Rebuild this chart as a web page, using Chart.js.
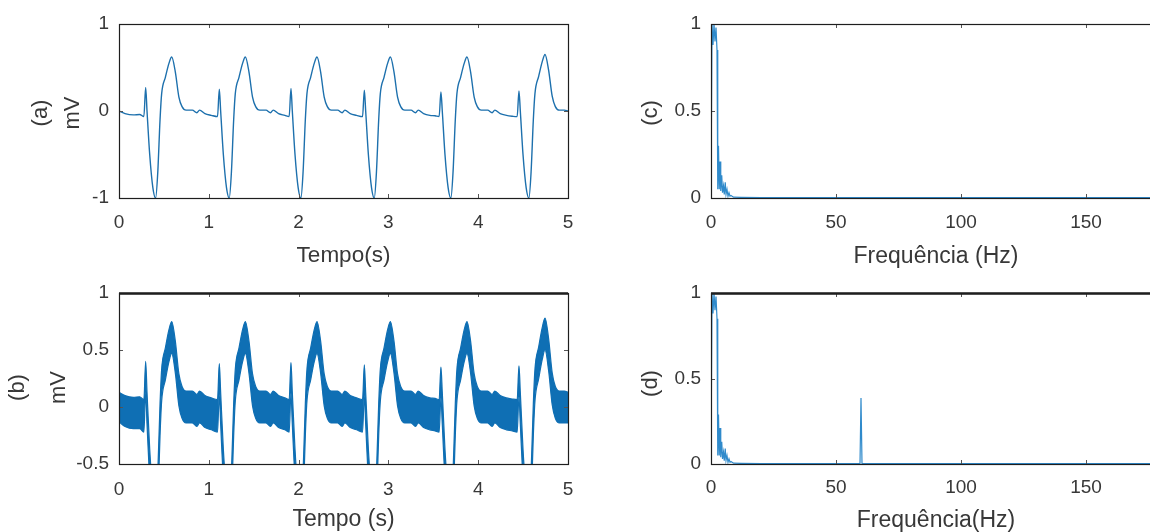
<!DOCTYPE html>
<html>
<head>
<meta charset="utf-8">
<script src="https://cdn.jsdelivr.net/npm/chart.js@4.4.1/dist/chart.umd.min.js"></script>
<style>
  html, body { margin: 0; padding: 0; background: #ffffff; }
  body { width: 1150px; height: 532px; overflow: hidden; position: relative; }
  canvas { position: absolute; display: block; }
</style>
</head>
<body>
<canvas id="ecgClean"></canvas>
<canvas id="ecgNoisy"></canvas>
<canvas id="specClean"></canvas>
<canvas id="specNoisy"></canvas>
<script>
// ---- tick labels ----
const timeTicks = [0, 1, 2, 3, 4, 5];
const ampTicksClean = [-1, 0, 1];
const ampTicksNoisy = [-0.5, 0, 0.5, 1];
const freqTicks = [0, 50, 100, 150];
const magTicks = [0, 0.5, 1];

// ---- ECG trace: sample times (s) ----
const ecgTime = [
  0.000, 0.067, 0.160, 0.230,
  0.277, 0.297, 0.312, 0.342, 0.377, 0.408, 0.432, 0.457, 0.475, 0.517, 0.557, 0.587, 0.627, 0.667, 0.702, 0.747, 0.817, 0.867, 0.897, 0.957, 1.027,
  1.097, 1.117, 1.132, 1.162, 1.197, 1.228, 1.252, 1.277, 1.295, 1.337, 1.377, 1.407, 1.447, 1.487, 1.522, 1.567, 1.637, 1.687, 1.717, 1.777, 1.847,
  1.895, 1.915, 1.930, 1.960, 1.995, 2.026, 2.050, 2.075, 2.093, 2.135, 2.175, 2.205, 2.245, 2.285, 2.320, 2.365, 2.435, 2.485, 2.515, 2.575, 2.645,
  2.712, 2.732, 2.747, 2.777, 2.812, 2.843, 2.867, 2.892, 2.910, 2.952, 2.992, 3.022, 3.062, 3.102, 3.137, 3.182, 3.252, 3.302, 3.332, 3.392, 3.462, 3.520,
  3.565, 3.585, 3.600, 3.630, 3.665, 3.696, 3.720, 3.745, 3.763, 3.805, 3.845, 3.875, 3.915, 3.955, 3.990, 4.035, 4.105, 4.155, 4.185, 4.245, 4.315, 4.380,
  4.434, 4.454, 4.469, 4.499, 4.534, 4.565, 4.589, 4.614, 4.632, 4.674, 4.714, 4.744, 4.784, 4.824, 4.859, 4.904, 4.960, 5.000
];

// clean ECG (mV)
const ecgClean = [
  0.00, -0.03, -0.045, -0.04,
  -0.065, 0.27, 0.00, -0.50, -0.88, -1.00, -0.70, -0.10, 0.20, 0.39, 0.55, 0.62, 0.45, 0.16, 0.05, 0.01, 0.01, -0.02, 0.01, -0.03, -0.05,
  -0.065, 0.25, 0.00, -0.50, -0.88, -1.00, -0.70, -0.10, 0.20, 0.39, 0.55, 0.62, 0.45, 0.16, 0.05, 0.01, 0.01, -0.02, 0.01, -0.03, -0.05,
  -0.065, 0.26, 0.00, -0.50, -0.88, -1.00, -0.70, -0.10, 0.20, 0.39, 0.55, 0.62, 0.45, 0.16, 0.05, 0.01, 0.01, -0.02, 0.01, -0.03, -0.05,
  -0.065, 0.24, 0.00, -0.50, -0.88, -1.00, -0.70, -0.10, 0.20, 0.39, 0.55, 0.62, 0.45, 0.16, 0.05, 0.01, 0.01, -0.02, 0.01, -0.03, -0.05, -0.055,
  -0.065, 0.22, 0.00, -0.50, -0.88, -1.00, -0.70, -0.10, 0.20, 0.39, 0.55, 0.62, 0.45, 0.16, 0.05, 0.01, 0.01, -0.02, 0.01, -0.03, -0.05, -0.06,
  -0.065, 0.23, 0.00, -0.50, -0.88, -1.00, -0.70, -0.10, 0.20, 0.40, 0.57, 0.65, 0.47, 0.17, 0.05, 0.01, 0.01, 0.00
];

// ECG with 60 Hz interference: upper and lower edge of the band (mV)
const ecgNoisyUpper = [
  0.13, 0.10, 0.085, 0.09,
  0.065, 0.40, 0.13, -0.37, -0.75, -0.87, -0.57, 0.03, 0.33, 0.52, 0.68, 0.75, 0.58, 0.29, 0.18, 0.14, 0.14, 0.11, 0.14, 0.10, 0.08,
  0.065, 0.38, 0.13, -0.37, -0.75, -0.87, -0.57, 0.03, 0.33, 0.52, 0.68, 0.75, 0.58, 0.29, 0.18, 0.14, 0.14, 0.11, 0.14, 0.10, 0.08,
  0.065, 0.39, 0.13, -0.37, -0.75, -0.87, -0.57, 0.03, 0.33, 0.52, 0.68, 0.75, 0.58, 0.29, 0.18, 0.14, 0.14, 0.11, 0.14, 0.10, 0.08,
  0.065, 0.37, 0.13, -0.37, -0.75, -0.87, -0.57, 0.03, 0.33, 0.52, 0.68, 0.75, 0.58, 0.29, 0.18, 0.14, 0.14, 0.11, 0.14, 0.10, 0.08, 0.075,
  0.065, 0.35, 0.13, -0.37, -0.75, -0.87, -0.57, 0.03, 0.33, 0.52, 0.68, 0.75, 0.58, 0.29, 0.18, 0.14, 0.14, 0.11, 0.14, 0.10, 0.08, 0.07,
  0.065, 0.36, 0.13, -0.37, -0.75, -0.87, -0.57, 0.03, 0.33, 0.53, 0.70, 0.78, 0.60, 0.30, 0.18, 0.14, 0.14, 0.13
];
const ecgNoisyLower = [
  -0.13, -0.17, -0.19, -0.19,
  -0.22, 0.13, -0.15, -0.65, -1.03, -1.15, -0.85, -0.25, 0.05, 0.24, 0.40, 0.47, 0.30, 0.01, -0.10, -0.14, -0.14, -0.17, -0.14, -0.18, -0.20,
  -0.22, 0.11, -0.15, -0.65, -1.03, -1.15, -0.85, -0.25, 0.05, 0.24, 0.40, 0.47, 0.30, 0.01, -0.10, -0.14, -0.14, -0.17, -0.14, -0.18, -0.20,
  -0.22, 0.12, -0.15, -0.65, -1.03, -1.15, -0.85, -0.25, 0.05, 0.24, 0.40, 0.47, 0.30, 0.01, -0.10, -0.14, -0.14, -0.17, -0.14, -0.18, -0.20,
  -0.22, 0.10, -0.15, -0.65, -1.03, -1.15, -0.85, -0.25, 0.05, 0.24, 0.40, 0.47, 0.30, 0.01, -0.10, -0.14, -0.14, -0.17, -0.14, -0.18, -0.20, -0.21,
  -0.22, 0.08, -0.15, -0.65, -1.03, -1.15, -0.85, -0.25, 0.05, 0.24, 0.40, 0.47, 0.30, 0.01, -0.10, -0.14, -0.14, -0.17, -0.14, -0.18, -0.20, -0.21,
  -0.22, 0.09, -0.15, -0.65, -1.03, -1.15, -0.85, -0.25, 0.05, 0.25, 0.42, 0.50, 0.32, 0.02, -0.10, -0.14, -0.14, -0.14
];

// ---- magnitude spectra (normalised) ----
const specFreq = [
  0, 0.4, 0.8, 1.2, 1.6, 2.0, 2.4, 2.7, 3.0, 3.3, 3.6, 3.9, 4.3, 4.6, 5.0, 5.3, 5.7, 6.0,
  6.4, 6.8, 7.2, 7.6, 8.0, 9.0, 12, 20, 40, 59.6, 60.0, 60.4, 80, 120, 180
];
const specMagClean = [
  0.02, 1.0, 0.88, 1.0, 0.90, 0.98, 0.85, 0.05, 0.30, 0.05, 0.21, 0.04, 0.13, 0.03, 0.07, 0.02, 0.09, 0.02,
  0.05, 0.01, 0.03, 0.01, 0.015, 0.005, 0.004, 0.003, 0.003, 0.003, 0.003, 0.003, 0.003, 0.003, 0.003
];
const specMagNoisy = [
  0.02, 1.0, 0.88, 1.0, 0.90, 0.98, 0.85, 0.05, 0.29, 0.05, 0.21, 0.04, 0.13, 0.03, 0.07, 0.02, 0.09, 0.02,
  0.05, 0.01, 0.03, 0.01, 0.015, 0.005, 0.004, 0.003, 0.003, 0.003, 0.386, 0.003, 0.003, 0.003, 0.003
];

// ---- drawing ----
const FONT = '"Liberation Sans", Arial, Helvetica, sans-serif';
const TEXT = '#383838';
const BLUE = '#0f6fb4';
const SPEC_BLUE = '#2f8acb';

const toPoints = (xs, ys) => xs.map((x, i) => ({ x: x, y: ys[i] }));

// axes box, inward tick marks and the rotated y caption, MATLAB style
const panelFrame = {
  id: 'panelFrame',
  afterDatasetsDraw(chart, args, o) {
    const { ctx, chartArea: a, scales } = chart;
    const len = 4;
    ctx.save();
    ctx.strokeStyle = '#555555';
    ctx.lineWidth = 1;
    ctx.beginPath();
    scales.x.ticks.forEach(t => {
      const px = Math.round(scales.x.getPixelForValue(t.value)) + 0.5;
      ctx.moveTo(px, a.bottom); ctx.lineTo(px, a.bottom - len);
      ctx.moveTo(px, a.top); ctx.lineTo(px, a.top + len);
    });
    scales.y.ticks.forEach(t => {
      const py = Math.round(scales.y.getPixelForValue(t.value)) + 0.5;
      ctx.moveTo(a.left, py); ctx.lineTo(a.left + len, py);
      ctx.moveTo(a.right, py); ctx.lineTo(a.right - len, py);
    });
    ctx.stroke();

    ctx.strokeStyle = '#1e1e1e';
    ctx.lineWidth = 1.2;
    ctx.strokeRect(Math.round(a.left) + 0.5, Math.round(a.top) + 0.5,
                   Math.round(a.right - a.left), Math.round(a.bottom - a.top));
    if (o.topWidth > 1) {
      ctx.lineWidth = o.topWidth;
      ctx.beginPath();
      ctx.moveTo(a.left, a.top + 0.5);
      ctx.lineTo(a.right, a.top + 0.5);
      ctx.stroke();
    }

    // y caption, one rotated line per entry
    const cy = (a.top + a.bottom) / 2 + o.captionShift;
    ctx.fillStyle = TEXT;
    ctx.font = o.captionSize + 'px ' + FONT;
    ctx.textAlign = 'center';
    ctx.textBaseline = 'middle';
    o.caption.forEach((line, i) => {
      ctx.save();
      ctx.translate(a.left + o.captionX[i], cy);
      ctx.rotate(-Math.PI / 2);
      ctx.fillText(line, 0, 0);
      ctx.restore();
    });
    ctx.restore();
  }
};

function makePanel(id, g, cfg) {
  const cv = document.getElementById(id);
  cv.width = g.w; cv.height = g.h;
  cv.style.left = g.left + 'px'; cv.style.top = g.top + 'px';
  cv.style.width = g.w + 'px'; cv.style.height = g.h + 'px';

  const tickFont = { family: FONT, size: 19 };
  const fixTicks = list => s => { s.ticks = list.map(v => ({ value: v })); };

  return new Chart(cv, {
    type: 'line',
    data: { datasets: cfg.datasets },
    options: {
      responsive: false,
      animation: false,
      devicePixelRatio: 1,
      events: [],
      layout: { padding: { left: 0, top: g.T - g.top, right: g.left + g.w - g.R, bottom: 0 } },
      elements: { point: { radius: 0 }, line: { tension: 0 } },
      plugins: {
        legend: { display: false },
        tooltip: { enabled: false },
        panelFrame: cfg.frame
      },
      scales: {
        x: {
          type: 'linear', min: cfg.xMin, max: cfg.xMax,
          afterBuildTicks: fixTicks(cfg.xTicks),
          afterFit: s => {
            s.height = g.top + g.h - g.B;
            s.paddingLeft = 0; s.paddingRight = 0; s.paddingTop = 0; s.paddingBottom = 0;
          },
          grid: { display: false, drawTicks: false },
          border: { display: false },
          ticks: { padding: cfg.xTickPad, font: tickFont, color: TEXT, maxRotation: 0, autoSkip: false,
                   callback: v => String(v) },
          title: { display: true, text: cfg.xTitle, color: TEXT,
                   font: { family: FONT, size: cfg.xTitleSize },
                   padding: { top: 0, bottom: cfg.xTitlePad } }
        },
        y: {
          type: 'linear', min: cfg.yMin, max: cfg.yMax,
          afterBuildTicks: fixTicks(cfg.yTicks),
          afterFit: s => {
            s.width = g.L - g.left;
            s.paddingLeft = 0; s.paddingRight = 0; s.paddingTop = 0; s.paddingBottom = 0;
          },
          grid: { display: false, drawTicks: false },
          border: { display: false },
          ticks: { padding: 10, font: tickFont, color: TEXT, autoSkip: false,
                   callback: v => String(v) }
        }
      }
    },
    plugins: [panelFrame]
  });
}

// (a) clean ECG
makePanel('ecgClean',
  { left: 0, top: 0, w: 600, h: 275, L: 119, T: 24, R: 568, B: 198 },
  {
    datasets: [{ data: toPoints(ecgTime, ecgClean), borderColor: '#1d70ad', borderWidth: 1.4,
                 cubicInterpolationMode: 'monotone', fill: false }],
    xMin: 0, xMax: 5, xTicks: timeTicks, xTickPad: 13,
    yMin: -1, yMax: 1, yTicks: ampTicksClean,
    xTitle: 'Tempo(s)', xTitleSize: 22.5, xTitlePad: 6,
    frame: { caption: ['(a)', 'mV'], captionX: [-78, -46.5], captionShift: 2, captionSize: 22, topWidth: 1 }
  });

// (b) ECG with 60 Hz interference
makePanel('ecgNoisy',
  { left: 0, top: 275, w: 600, h: 262, L: 119, T: 293, R: 568, B: 464 },
  {
    datasets: [
      { data: toPoints(ecgTime, ecgNoisyUpper), borderColor: BLUE, borderWidth: 1.2,
        cubicInterpolationMode: 'monotone', fill: false },
      { data: toPoints(ecgTime, ecgNoisyLower), borderColor: BLUE, borderWidth: 1.2,
        cubicInterpolationMode: 'monotone', backgroundColor: BLUE, fill: '-1' }
    ],
    xMin: 0, xMax: 5, xTicks: timeTicks, xTickPad: 14,
    yMin: -0.5, yMax: 1, yTicks: ampTicksNoisy,
    xTitle: 'Tempo (s)', xTitleSize: 23, xTitlePad: 4,
    frame: { caption: ['(b)', 'mV'], captionX: [-101, -60], captionShift: 9, captionSize: 22, topWidth: 2.6 }
  });

// (c) spectrum of the clean ECG
makePanel('specClean',
  { left: 620, top: 0, w: 580, h: 275, L: 711, T: 24, R: 1161, B: 198 },
  {
    datasets: [{ data: toPoints(specFreq, specMagClean), borderColor: SPEC_BLUE, borderWidth: 1.2, fill: false }],
    xMin: 0, xMax: 180, xTicks: freqTicks, xTickPad: 13,
    yMin: 0, yMax: 1, yTicks: magTicks,
    xTitle: 'Frequência (Hz)', xTitleSize: 23, xTitlePad: 5,
    frame: { caption: ['(c)'], captionX: [-60], captionShift: 2, captionSize: 22, topWidth: 1 }
  });

// (d) spectrum of the ECG with interference
makePanel('specNoisy',
  { left: 620, top: 275, w: 580, h: 262, L: 711, T: 293, R: 1161, B: 464 },
  {
    datasets: [{ data: toPoints(specFreq, specMagNoisy), borderColor: SPEC_BLUE, borderWidth: 1.2, fill: false }],
    xMin: 0, xMax: 180, xTicks: freqTicks, xTickPad: 12,
    yMin: 0, yMax: 1, yTicks: magTicks,
    xTitle: 'Frequência(Hz)', xTitleSize: 23, xTitlePad: 2.5,
    frame: { caption: ['(d)'], captionX: [-60], captionShift: 5, captionSize: 22, topWidth: 2.6 }
  });
</script>
</body>
</html>
